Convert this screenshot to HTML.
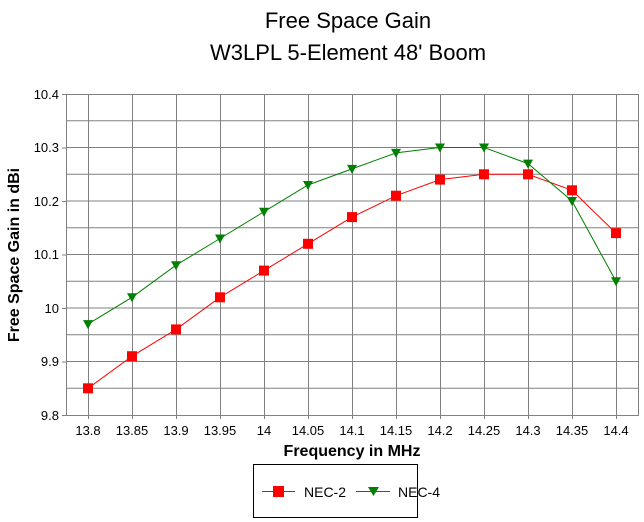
<!DOCTYPE html>
<html><head><style>body{margin:0;background:#fff}svg{display:block}text{font-family:"Liberation Sans",Arial,sans-serif}</style></head>
<body>
<svg width="644" height="522" viewBox="0 0 644 522" xmlns="http://www.w3.org/2000/svg">
<text x="348" y="28" font-size="22" text-anchor="middle">Free Space Gain</text>
<text x="348" y="60" font-size="22" text-anchor="middle">W3LPL 5-Element 48' Boom</text>
<g stroke="#808080" stroke-width="1" fill="none">
<path d="M66.5 120.75H638M66.5 147.5H638M66.5 174.25H638M66.5 201H638M66.5 227.75H638M66.5 254.5H638M66.5 281.25H638M66.5 308H638M66.5 334.75H638M66.5 361.5H638M66.5 388.25H638"/>
<path d="M88.5 94V419M132.5 94V419M176.5 94V419M220.5 94V419M264.5 94V419M308.5 94V419M352.5 94V419M396.5 94V419M440.5 94V419M484.5 94V419M528.5 94V419M572.5 94V419M616.5 94V419"/>
<path d="M62 94.5H638.5V415.5H66.5V94.5M62 148H66M62 201.5H66M62 255H66M62 308.5H66M62 362H66M62 415.5H66"/>
</g>
<g font-size="13" text-anchor="end">
<text x="59" y="99">10.4</text><text x="59" y="152">10.3</text><text x="59" y="206">10.2</text><text x="59" y="259">10.1</text><text x="59" y="313">10</text><text x="59" y="366">9.9</text><text x="59" y="420">9.8</text>
</g>
<g font-size="13" text-anchor="middle">
<text x="88" y="435">13.8</text><text x="132" y="435">13.85</text><text x="176" y="435">13.9</text><text x="220" y="435">13.95</text><text x="264" y="435">14</text><text x="308" y="435">14.05</text><text x="352" y="435">14.1</text><text x="396" y="435">14.15</text><text x="440" y="435">14.2</text><text x="484" y="435">14.25</text><text x="528" y="435">14.3</text><text x="572" y="435">14.35</text><text x="616" y="435">14.4</text>
</g>
<text x="352" y="456" font-size="16" font-weight="bold" text-anchor="middle">Frequency in MHz</text>
<text transform="translate(19,255) rotate(-90)" font-size="16" font-weight="bold" text-anchor="middle">Free Space Gain in dBi</text>
<polyline fill="none" stroke="#ff0000" stroke-width="1" points="88,388.3 132,356.2 176,329.4 220,297.3 264,270.6 308,243.8 352,217.1 396,195.7 440,179.6 484,174.3 528,174.3 572,190.3 616,233.1"/>
<g fill="#ff0000">
<rect x="83" y="383.3" width="10" height="10"/><rect x="127" y="351.2" width="10" height="10"/><rect x="171" y="324.4" width="10" height="10"/><rect x="215" y="292.3" width="10" height="10"/><rect x="259" y="265.6" width="10" height="10"/><rect x="303" y="238.8" width="10" height="10"/><rect x="347" y="212.1" width="10" height="10"/><rect x="391" y="190.7" width="10" height="10"/><rect x="435" y="174.6" width="10" height="10"/><rect x="479" y="169.3" width="10" height="10"/><rect x="523" y="169.3" width="10" height="10"/><rect x="567" y="185.3" width="10" height="10"/><rect x="611" y="228.1" width="10" height="10"/>
</g>
<polyline fill="none" stroke="#008000" stroke-width="1" points="88,324.1 132,297.3 176,265.2 220,238.5 264,211.7 308,185 352,168.9 396,152.9 440,147.5 484,147.5 528,163.6 572,201 616,281.3"/>
<g fill="#008000">
<path d="M83 320.1h10l-5 9z"/><path d="M127 293.3h10l-5 9z"/><path d="M171 261.2h10l-5 9z"/><path d="M215 234.5h10l-5 9z"/><path d="M259 207.7h10l-5 9z"/><path d="M303 181h10l-5 9z"/><path d="M347 164.9h10l-5 9z"/><path d="M391 148.9h10l-5 9z"/><path d="M435 143.5h10l-5 9z"/><path d="M479 143.5h10l-5 9z"/><path d="M523 159.6h10l-5 9z"/><path d="M567 197h10l-5 9z"/><path d="M611 277.3h10l-5 9z"/>
</g>
<rect x="253.5" y="464.5" width="164" height="53" fill="none" stroke="#000"/>
<line x1="262" y1="491.5" x2="295" y2="491.5" stroke="#ff0000"/>
<rect x="273" y="486" width="11" height="11" fill="#ff0000"/>
<text x="304" y="497" font-size="14">NEC-2</text>
<line x1="356" y1="491.5" x2="390" y2="491.5" stroke="#008000"/>
<path d="M368 487h11l-5.5 9z" fill="#008000"/>
<text x="398" y="497" font-size="14">NEC-4</text>
</svg>
</body></html>
